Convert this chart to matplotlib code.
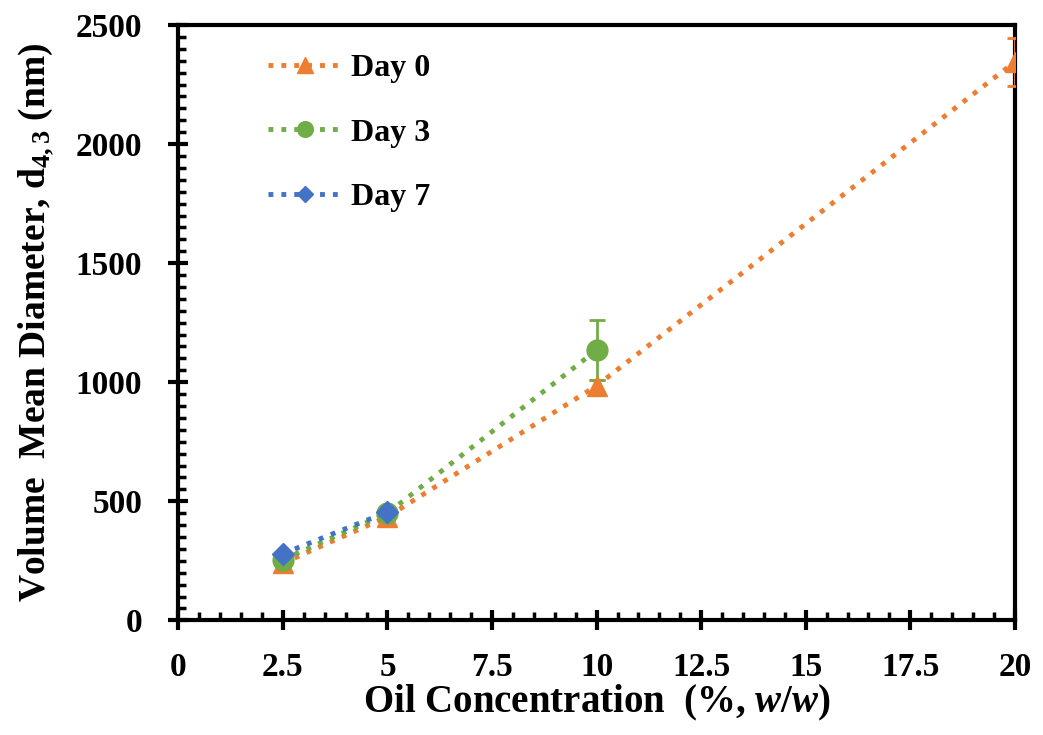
import matplotlib
matplotlib.use('Agg')
from matplotlib import pyplot as plt
from matplotlib.ticker import MultipleLocator, FuncFormatter

plt.rcParams['font.family'] = ['Liberation Serif', 'DejaVu Serif']
plt.rcParams['font.weight'] = 'bold'
plt.rcParams['mathtext.fontset'] = 'custom'
plt.rcParams['mathtext.rm'] = 'Liberation Serif:bold'
plt.rcParams['mathtext.it'] = 'Liberation Serif:bold:italic'
plt.rcParams['mathtext.bf'] = 'Liberation Serif:bold'

# data
conc_day0 = [2.5, 5, 10, 20]
size_day0 = [240, 435, 985, 2345]
err_day0 = [10, 12, 25, 100]

conc_day3 = [2.5, 5, 10]
size_day3 = [255, 450, 1135]
err_day3 = [8, 10, 127]

conc_day7 = [2.5, 5]
size_day7 = [280, 455]
err_day7 = [5, 8]

labels = ['Day 0', 'Day 3', 'Day 7']
colors = ['#ED7D31', '#70AD47', '#4472C4']
markers = ['^', 'o', 'D']
msizes = [15, 15, 11]


def data_plot():
    fig = plt.figure(figsize=(10.43, 7.35), dpi=100)
    ax = fig.add_axes([0.171, 0.156, 0.802, 0.81])

    series = [(conc_day0, size_day0, err_day0),
              (conc_day3, size_day3, err_day3),
              (conc_day7, size_day7, err_day7)]
    for (x, y, e), lab, c, m, ms in zip(series, labels, colors, markers, msizes):
        ax.errorbar(x, y, yerr=e, color=c, ecolor=c, elinewidth=2, capsize=6,
                    capthick=2, linestyle=':', linewidth=3.5, marker=m,
                    markersize=ms, label=lab, zorder=3)

    ax.set_xlim(0, 20)
    ax.set_ylim(0, 2500)
    ax.xaxis.set_major_locator(MultipleLocator(2.5))
    ax.xaxis.set_minor_locator(MultipleLocator(0.5))
    ax.yaxis.set_major_locator(MultipleLocator(500))
    ax.yaxis.set_minor_locator(MultipleLocator(50))
    ax.xaxis.set_major_formatter(FuncFormatter(lambda v, p: '%g' % v))

    for s in ax.spines.values():
        s.set_linewidth(3)
    ax.tick_params(which='major', direction='inout', length=14, width=3,
                   labelsize=24)
    ax.tick_params(axis='x', which='major', pad=16)
    ax.tick_params(axis='y', which='major', pad=19)
    ax.tick_params(which='minor', direction='in', length=6, width=2.5)
    for lab in ax.get_xticklabels() + ax.get_yticklabels():
        lab.set_fontweight('bold')

    ax.set_xlabel('Oil Concentration  (%, $\\mathit{w/w}$)', fontsize=28,
                  fontweight='bold', labelpad=0)
    ax.set_ylabel('Volume  Mean Diameter, d$_{\\mathrm{4,3}}$ (nm)', fontsize=27,
                  fontweight='bold', labelpad=14)

    h, l = ax.get_legend_handles_labels()
    h = [hh[0] for hh in h]
    ax.legend(h, l, loc='upper left', bbox_to_anchor=(0.073, 1.0), frameon=False,
              prop={'family': 'Liberation Serif', 'weight': 'bold', 'size': 23},
              handlelength=2.3, labelspacing=1.1, handletextpad=0.3,
              markerscale=0.75)

    fig.savefig('out.png', dpi=100)
    return ax


if __name__ == '__main__':
    data_plot()
